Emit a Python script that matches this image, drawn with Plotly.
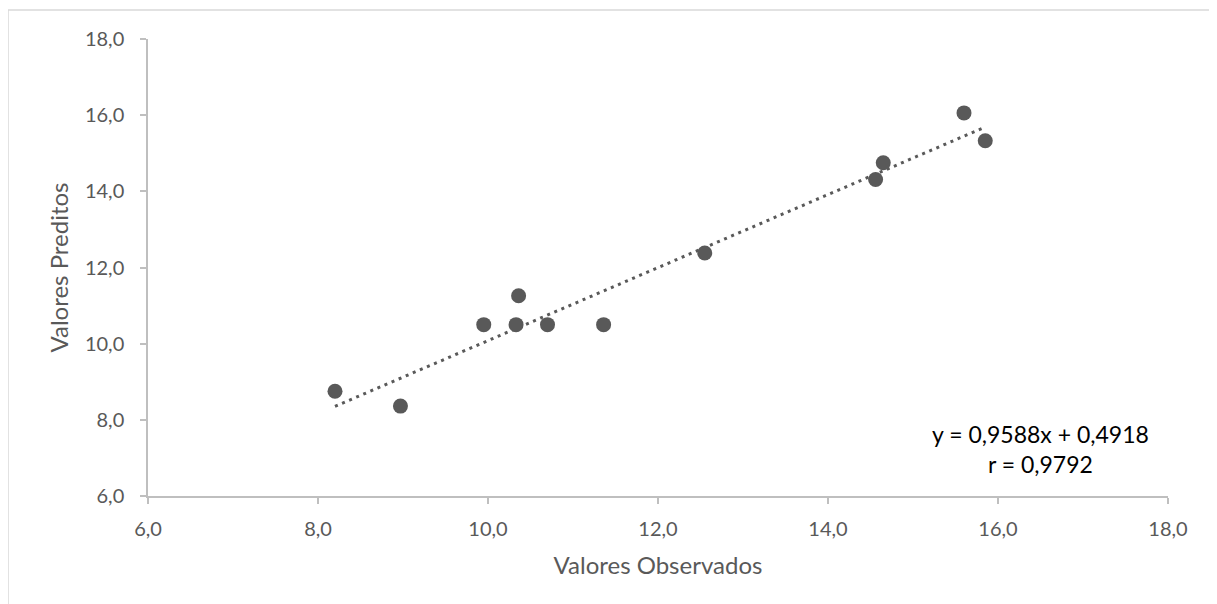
import plotly.graph_objects as go

# Data
observados = [8.20, 8.97, 9.95, 10.33, 10.36, 10.70, 11.36, 12.55, 14.56, 14.65, 15.60, 15.85]
preditos   = [8.75, 8.36, 10.50, 10.50, 11.26, 10.50, 10.50, 12.38, 14.31, 14.75, 16.06, 15.33]
slope = 0.9588
intercept = 0.4918
eq_text = "y = 0,9588x + 0,4918<br>r = 0,9792"
tick_vals = [6, 8, 10, 12, 14, 16, 18]
tick_text = ["6,0", "8,0", "10,0", "12,0", "14,0", "16,0", "18,0"]

x_trend = [min(observados), max(observados)]
y_trend = [slope * v + intercept for v in x_trend]

GRAY = "#595959"
AXIS = "#BFBFBF"
FONT = "Lato"

# page has an 8px body margin; plot area target: x 148..1168, y 39..496.5
W, H = 1209, 596
L, R, T, B = 140, 49, 31, 108
PW = W - L - R
PH = H - T - B

def px_to_paper_x(px):
    return (px - 8 - L) / PW

def px_to_paper_y(py):
    return (H - B - (py - 8)) / PH

fig = go.Figure()
fig.add_trace(go.Scatter(
    x=x_trend, y=y_trend, mode="lines",
    line=dict(color=GRAY, width=3, dash="3px,4.7px"),
    showlegend=False, hoverinfo="skip"))
fig.add_trace(go.Scatter(
    x=observados, y=preditos, mode="markers",
    marker=dict(color=GRAY, size=15, line=dict(width=0)),
    showlegend=False))

axis_common = dict(
    range=[6, 18], tickvals=tick_vals, ticktext=tick_text,
    showgrid=False, zeroline=False, showline=True, linecolor=AXIS, linewidth=1.5,
    ticks="outside", ticklen=6, tickcolor=AXIS, tickwidth=1.5,
    tickfont=dict(family=FONT, size=20, color=GRAY),
)

fig.update_layout(
    width=W, height=H,
    margin=dict(l=L, r=R, t=T, b=B, pad=0),
    paper_bgcolor="white", plot_bgcolor="white",
    xaxis=dict(**axis_common, ticklabelstandoff=8,
               title=dict(text="Valores Observados", font=dict(family=FONT, size=24, color=GRAY), standoff=18)),
    yaxis=dict(**axis_common, ticklabelstandoff=12,
               title=dict(text="Valores Preditos", font=dict(family=FONT, size=24, color=GRAY), standoff=10)),
    annotations=[dict(
        xref="paper", yref="paper", x=px_to_paper_x(1040), y=px_to_paper_y(449),
        xanchor="center", yanchor="middle",
        text=eq_text, showarrow=False,
        font=dict(family=FONT, size=23, color="black"), align="center")],
    shapes=[
        dict(type="line", xref="paper", yref="paper",
             x0=px_to_paper_x(8), x1=px_to_paper_x(1230), y0=px_to_paper_y(10), y1=px_to_paper_y(10),
             line=dict(color="#D9D9D9", width=1.5)),
        dict(type="line", xref="paper", yref="paper",
             x0=px_to_paper_x(8), x1=px_to_paper_x(8), y0=px_to_paper_y(10), y1=px_to_paper_y(620),
             line=dict(color="#D9D9D9", width=1.5)),
    ],
)

fig.write_html("out.html")
